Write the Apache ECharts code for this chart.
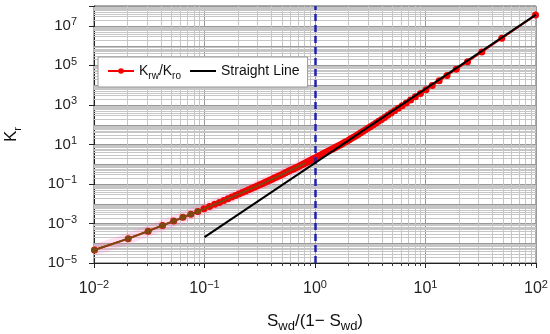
<!DOCTYPE html>
<html>
<head>
<meta charset="utf-8">
<script src="https://cdn.jsdelivr.net/npm/echarts@6/dist/echarts.min.js"></script>
<style>html,body{margin:0;padding:0;background:#fff}#c{width:550px;height:334px}</style>
</head>
<body>
<div id="c"></div>
<script>
// ---- data ----
const swdRatio = [
0.0101,0.0204,0.0309,0.0417,0.0526,0.0638,0.0753,0.0870,0.0989,0.1111,
0.1236,0.1364,0.1494,0.1628,0.1765,0.1905,0.2048,0.2195,0.2346,0.25,
0.2658,0.2821,0.2987,0.3158,0.3333,0.3514,0.3699,0.3889,0.4085,0.4286,
0.4493,0.4706,0.4925,0.5152,0.5385,0.5625,0.5873,0.6129,0.6393,0.6667,
0.6949,0.7241,0.7544,0.7857,0.8182,0.8519,0.8868,0.9231,0.9608,1.0,
1.0408,1.0833,1.1277,1.1739,1.2222,1.2727,1.3256,1.381,1.439,1.5,
1.5641,1.6316,1.7027,1.7778,1.8571,1.9412,2.0303,2.125,2.2258,2.3333,
2.4483,2.5714,2.7037,2.8462,3.0,3.1667,3.3478,3.5455,3.7619,4.0,
4.2632,4.5556,4.8824,5.25,5.6667,6.1429,6.6923,7.3333,8.0909,9.0,
10.111,11.5,13.286,15.667,19.0,24.0,32.333,49.0,99.0];
const krRatio = [
4.57e-5,1.70e-4,4.07e-4,7.94e-4,1.32e-3,2.04e-3,2.95e-3,4.07e-3,5.50e-3,7.20e-3,
9.24e-3,1.16e-2,1.45e-2,1.77e-2,2.15e-2,2.59e-2,3.08e-2,3.65e-2,4.30e-2,5.02e-2,
5.85e-2,6.79e-2,7.84e-2,9.02e-2,0.1035,0.1183,0.1349,0.1536,0.1744,0.1978,
0.2238,0.2529,0.2854,0.3216,0.3622,0.4072,0.4578,0.514,0.5768,0.6474,
0.7258,0.8138,0.9127,1.022,1.146,1.285,1.441,1.616,1.813,2.035,
2.291,2.573,2.889,3.243,3.648,4.102,4.613,5.200,5.861,6.607,
7.499,8.492,9.683,11.07,12.68,14.59,16.90,19.63,22.91,26.92,
31.70,37.58,44.77,53.70,64.57,78.34,95.72,117.8,146.2,183.2,
231.2,295.1,381.9,502.3,668.3,905.7,1247,1758,2541,3784,
5861,9506,16330,30410,63240,153500,474200,2333000,34670000];
const straightX = [0.1, 100];
const straightY = [2.04e-4, 3.63e7];
const xTickExps = [-2, -1, 0, 1, 2];
const yTickExps = [-5, -3, -1, 1, 3, 5, 7];
const breakthroughX = 1;
const brownCount = 45;      // low-saturation part drawn in brown
const brownMarkerCount = 8;

// ---- helpers ----
const L = Math.log10;
const X_MIN = -2, X_MAX = 2, Y_MIN = -5, Y_MAX = 8;
const pts = swdRatio.map((x, i) => [L(x), L(krRatio[i])]);
const linePts = straightX.map((x, i) => [L(x), L(straightY[i])]);

const xMinor = [];
for (let k = X_MIN; k < X_MAX; k++) for (let m = 2; m <= 9; m++) xMinor.push([k + L(m), Y_MIN]);
const yMinor = [];
for (let k = Y_MIN; k < Y_MAX; k++) {
  for (let m = 2; m <= 9; m++) yMinor.push([X_MIN, k + L(m), 0]);
  if (((k % 2) + 2) % 2 === 0) yMinor.push([X_MIN, k, 1]);
}

const mkRich = (size, sup) => ({
  b: {fontSize: size, fontFamily: 'Liberation Sans, Arial', color: '#222', lineHeight: size + 3},
  s: {fontSize: sup, fontFamily: 'Liberation Sans, Arial', color: '#222', verticalAlign: 'top'}
});
const expLabel = v => {
  const n = Math.round(v);
  return '{b|10}{s|' + (n < 0 ? '\u2212' + (-n) : n) + '}';
};

const chart = echarts.init(document.getElementById('c'), null, {renderer: 'canvas'});
chart.setOption({
  animation: false,
  backgroundColor: '#fff',
  grid: {left: 94, right: 14, top: 6, bottom: 71, containLabel: false, outerBoundsMode: 'none',
    show: true, borderColor: '#555', borderWidth: 1, backgroundColor: 'transparent'},
  legend: {
    data: [
      {name: 'Krw/Kro'},
      {name: 'Straight Line', itemStyle: {opacity: 0}}
    ],
    left: 98, top: 57,
    padding: [7, 8, 6, 9],
    itemGap: 8, itemWidth: 26, itemHeight: 7,
    borderColor: '#999', borderWidth: 1, backgroundColor: '#fff',
    formatter: n => n === 'Krw/Kro' ? '{n|K}{d|rw}{n|/K}{d|ro}' : '{n|' + n + '}',
    textStyle: {
      rich: {
        n: {fontSize: 14, fontFamily: 'Liberation Sans, Arial', color: '#111', lineHeight: 20},
        d: {fontSize: 10, fontFamily: 'Liberation Sans, Arial', color: '#111', verticalAlign: 'bottom'}
      }
    }
  },
  xAxis: {
    type: 'value', min: X_MIN, max: X_MAX, interval: 1,
    name: '{n|S}{d|wd}{n|/(1\u2212 S}{d|wd}{n|)}',
    nameLocation: 'middle', nameGap: 46,
    nameTextStyle: {rich: {
      n: {fontSize: 17, fontFamily: 'Liberation Sans, Arial', color: '#111', lineHeight: 24},
      d: {fontSize: 13, fontFamily: 'Liberation Sans, Arial', color: '#111', verticalAlign: 'bottom'}
    }},
    axisLine: {onZero: false, lineStyle: {color: '#222', width: 1}},
    axisTick: {show: true, length: 5, lineStyle: {color: '#222'}},
    axisLabel: {margin: 16, formatter: v => xTickExps.includes(Math.round(v)) ? expLabel(v) : '', rich: mkRich(16, 11)},
    splitLine: {show: true, lineStyle: {color: '#999', width: 1}}
  },
  yAxis: {
    type: 'value', min: Y_MIN, max: Y_MAX, interval: 2,
    name: '{n|K}{d|r}',
    nameLocation: 'middle', nameGap: 71, nameRotate: 90,
    nameTextStyle: {rich: {
      n: {fontSize: 17, fontFamily: 'Liberation Sans, Arial', color: '#111', lineHeight: 24},
      d: {fontSize: 11, fontFamily: 'Liberation Sans, Arial', color: '#111', verticalAlign: 'bottom'}
    }},
    axisLine: {onZero: false, lineStyle: {color: '#222', width: 1}},
    axisTick: {show: true, length: 5, lineStyle: {color: '#222'}},
    axisLabel: {margin: 17, formatter: v => yTickExps.includes(Math.round(v)) && Math.abs(v - Math.round(v)) < 1e-6 ? expLabel(v) : '', rich: mkRich(15, 11)},
    splitLine: {show: true, lineStyle: {color: '#999', width: 1}}
  },
  series: [
    {
      type: 'custom', name: 'xgrid', silent: true, z: 1, clip: false,
      data: xMinor, encode: {x: 0, y: 1},
      renderItem: (params, api) => {
        const cs = params.coordSys;
        const p = api.coord([api.value(0), api.value(1)]);
        const x = Math.round(p[0]) + 0.5;
        const b = cs.y + cs.height;
        return {type: 'group', children: [
          {type: 'line', shape: {x1: x, y1: cs.y, x2: x, y2: b}, style: {stroke: '#c6c6c6', lineWidth: 1}},
          {type: 'line', shape: {x1: x, y1: b, x2: x, y2: b + 3}, style: {stroke: '#333', lineWidth: 1}}
        ]};
      }
    },
    {
      type: 'custom', name: 'ygrid', silent: true, z: 1, clip: false,
      data: yMinor, encode: {x: 0, y: 1},
      renderItem: (params, api) => {
        const cs = params.coordSys;
        const p = api.coord([api.value(0), api.value(1)]);
        const y = Math.round(p[1]) + 0.5;
        return {type: 'line', shape: {x1: cs.x, y1: y, x2: cs.x + cs.width, y2: y},
          style: {stroke: api.value(2) ? '#9a9a9a' : '#c6c6c6', lineWidth: 1}};
      }
    },
    {
      type: 'line', name: 'halo', silent: true, z: 2,
      data: pts.slice(0, 50), symbol: 'none',
      lineStyle: {color: 'rgba(255,120,190,0.22)', width: 11}
    },
    {
      type: 'line', name: 'Krw/Kro', z: 3,
      data: pts, symbol: 'circle', symbolSize: 7, showSymbol: true,
      itemStyle: {color: '#f40000'},
      lineStyle: {color: '#f40000', width: 2}
    },
    {
      type: 'line', name: 'brown', silent: true, z: 4,
      data: pts.slice(0, brownCount), symbol: 'circle',
      symbolSize: (v, p) => p.dataIndex < brownMarkerCount ? 6 : 0,
      itemStyle: {color: '#7a4a12'},
      lineStyle: {color: '#7a4a12', width: 1.8}
    },
    {
      type: 'line', name: 'Straight Line', z: 5,
      data: linePts, symbol: 'none',
      itemStyle: {color: '#000'},
      lineStyle: {color: '#000', width: 2},
      markLine: {
        silent: true, symbol: 'none', label: {show: false},
        lineStyle: {color: '#2222b0', type: [7, 4], width: 2.5},
        data: [{xAxis: L(breakthroughX)}]
      }
    }
  ]
});
</script>
</body>
</html>
